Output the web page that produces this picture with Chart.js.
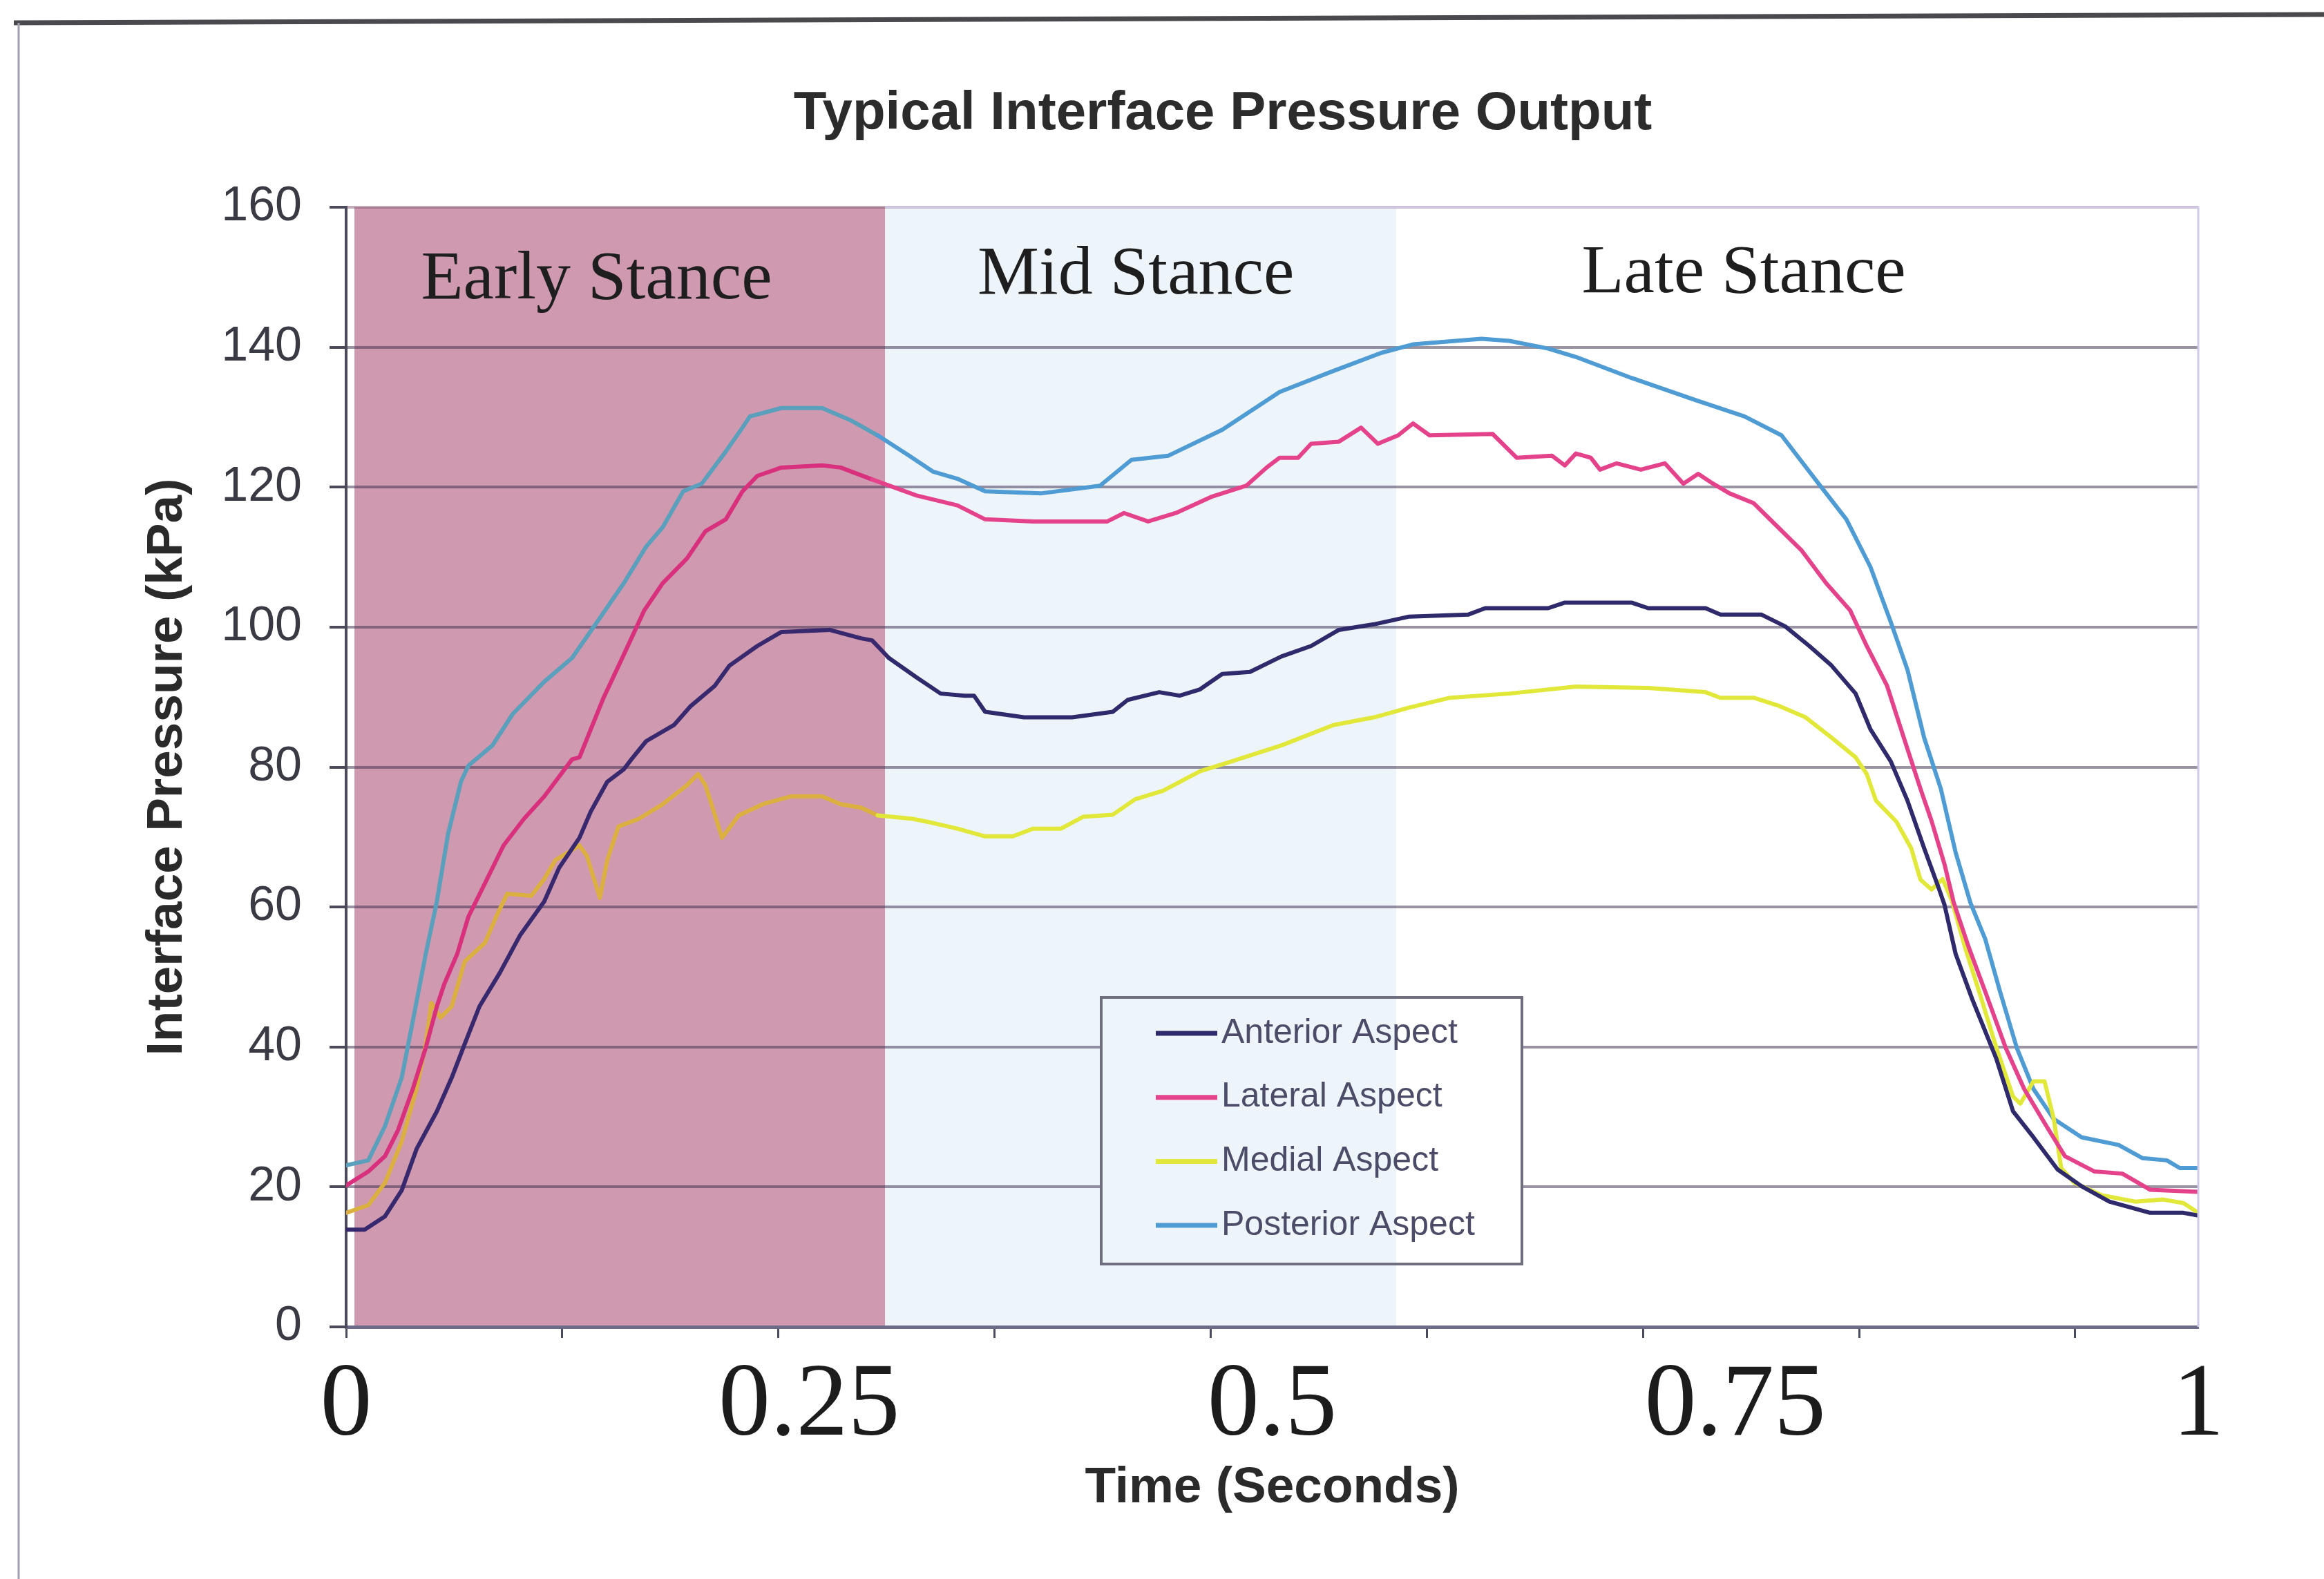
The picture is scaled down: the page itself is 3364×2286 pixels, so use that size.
<!DOCTYPE html>
<html>
<head>
<meta charset="utf-8">
<title>Typical Interface Pressure Output</title>
<script src="https://cdn.jsdelivr.net/npm/chart.js@4/dist/chart.umd.min.js"></script>
<style>
  html, body { margin: 0; padding: 0; background: #ffffff; }
  #wrap { width: 3364px; height: 2286px; }
</style>
</head>
<body>
<div id="wrap"><canvas id="chart" width="3364" height="2286"></canvas></div>
<script>
// ---- Series data: normalised time (0..1) and interface pressure (kPa) ----
const anteriorTime = [0.000,0.010,0.021,0.030,0.038,0.049,0.057,0.064,0.072,0.083,0.094,0.107,0.115,0.126,0.132,0.141,0.150,0.154,0.162,0.177,0.186,0.199,0.207,0.222,0.235,0.261,0.278,0.284,0.293,0.308,0.321,0.334,0.339,0.345,0.366,0.392,0.414,0.422,0.439,0.450,0.461,0.473,0.488,0.505,0.521,0.536,0.555,0.574,0.606,0.615,0.649,0.658,0.694,0.703,0.734,0.742,0.764,0.777,0.790,0.802,0.815,0.823,0.834,0.843,0.852,0.860,0.863,0.869,0.878,0.891,0.900,0.911,0.924,0.937,0.952,0.974,0.992,1.000];
const anteriorPressure = [13.9,13.9,15.8,19.5,25.4,30.8,35.6,40.4,45.8,50.6,56.0,60.8,65.6,69.9,73.6,77.9,79.7,81.1,83.7,86.0,88.7,91.6,94.5,97.3,99.3,99.6,98.4,98.1,95.6,92.8,90.5,90.2,90.2,87.9,87.1,87.1,87.9,89.6,90.7,90.2,91.1,93.3,93.6,95.8,97.3,99.6,100.4,101.5,101.8,102.7,102.7,103.5,103.5,102.7,102.7,101.8,101.8,100.1,97.3,94.5,90.5,85.4,80.8,75.2,68.4,62.6,60.3,53.3,46.8,38.3,30.8,27.1,22.5,20.1,17.9,16.3,16.3,15.9];

const lateralTime = [0.000,0.012,0.021,0.028,0.036,0.043,0.049,0.053,0.060,0.066,0.075,0.085,0.096,0.107,0.122,0.126,0.139,0.150,0.161,0.171,0.184,0.194,0.205,0.214,0.222,0.235,0.257,0.267,0.284,0.308,0.330,0.345,0.371,0.411,0.420,0.433,0.448,0.467,0.486,0.497,0.504,0.514,0.521,0.536,0.548,0.557,0.568,0.576,0.585,0.619,0.632,0.651,0.658,0.664,0.672,0.677,0.686,0.699,0.712,0.722,0.730,0.738,0.747,0.760,0.773,0.786,0.799,0.812,0.821,0.832,0.841,0.850,0.856,0.863,0.868,0.876,0.885,0.896,0.906,0.918,0.928,0.944,0.959,0.974,1.000];
const lateralPressure = [20.2,22.2,24.4,28.1,34.0,39.9,45.8,49.0,53.3,58.6,63.4,68.8,72.6,75.8,81.1,81.4,89.9,96.1,102.4,106.3,109.8,113.7,115.4,119.4,121.6,122.8,123.1,122.8,121.1,118.8,117.4,115.4,115.1,115.1,116.3,115.1,116.3,118.6,120.2,122.8,124.2,124.2,126.2,126.5,128.5,126.2,127.4,129.1,127.4,127.6,124.2,124.5,123.1,124.8,124.2,122.5,123.4,122.5,123.4,120.5,121.9,120.5,119.1,117.7,114.3,110.9,106.3,102.4,97.3,91.6,84.2,76.9,72.3,66.1,60.6,54.3,47.9,39.9,34.0,28.7,24.4,22.2,21.9,19.6,19.3];

const medialTime = [0.000,0.012,0.021,0.030,0.038,0.043,0.046,0.051,0.057,0.064,0.075,0.081,0.087,0.100,0.107,0.113,0.126,0.130,0.137,0.141,0.147,0.158,0.171,0.184,0.190,0.194,0.203,0.212,0.225,0.240,0.257,0.267,0.278,0.287,0.306,0.317,0.330,0.345,0.360,0.371,0.386,0.398,0.414,0.426,0.441,0.461,0.478,0.505,0.533,0.555,0.574,0.596,0.628,0.664,0.703,0.734,0.742,0.760,0.773,0.788,0.802,0.815,0.821,0.826,0.837,0.845,0.850,0.856,0.862,0.867,0.874,0.883,0.891,0.900,0.904,0.911,0.917,0.922,0.926,0.933,0.948,0.966,0.981,0.992,1.000];
const medialPressure = [16.3,17.4,20.6,26.5,34.0,40.4,46.3,44.2,45.8,52.2,54.9,58.6,61.9,61.6,64.0,66.7,68.8,67.3,61.3,66.7,71.5,72.6,74.7,77.4,79.0,77.4,69.9,73.1,74.7,75.8,75.8,74.7,74.2,73.1,72.6,72.0,71.2,70.1,70.1,71.2,71.2,72.9,73.2,75.4,76.6,79.4,80.8,83.1,86.0,87.1,88.5,89.9,90.5,91.5,91.3,90.7,89.9,89.9,88.8,87.1,84.2,81.4,79.0,75.2,72.2,68.4,63.9,62.5,64.0,60.9,54.3,46.8,39.9,32.9,31.9,35.1,35.1,29.7,22.7,20.6,18.8,17.9,18.2,17.7,16.3];

const posteriorTime = [0.000,0.012,0.021,0.030,0.036,0.043,0.049,0.055,0.062,0.066,0.079,0.090,0.107,0.122,0.137,0.150,0.162,0.171,0.182,0.192,0.205,0.214,0.218,0.235,0.257,0.272,0.287,0.304,0.317,0.330,0.345,0.375,0.407,0.424,0.444,0.473,0.504,0.531,0.559,0.576,0.613,0.628,0.649,0.664,0.694,0.729,0.755,0.775,0.795,0.810,0.823,0.834,0.843,0.852,0.861,0.869,0.877,0.885,0.893,0.902,0.911,0.922,0.937,0.957,0.970,0.983,0.990,1.000];
const posteriorPressure = [23.1,23.8,28.7,35.6,43.7,53.3,60.8,70.4,77.9,80.2,83.1,87.6,92.2,95.6,101.3,106.3,111.5,114.3,119.4,120.5,125.1,128.5,130.1,131.3,131.3,129.6,127.4,124.5,122.2,121.2,119.4,119.1,120.2,123.9,124.5,128.2,133.6,136.4,139.2,140.4,141.2,140.9,139.8,138.6,135.6,132.4,130.1,127.4,120.5,115.4,108.6,100.7,93.9,84.2,76.9,67.8,60.6,55.4,47.9,39.9,34.0,29.7,27.1,26.0,24.1,23.8,22.7,22.7];

const seriesNames = ['Anterior Aspect', 'Lateral Aspect', 'Medial Aspect', 'Posterior Aspect'];

// Gait phases (normalised time)
const stanceNames = ['Early Stance', 'Mid Stance', 'Late Stance'];
const stanceStart = [0.0045, 0.291, 0.567];
const stanceEnd   = [0.291, 0.567, 1.0];

// Axis ticks
const xTickLabels = ['0', '0.25', '0.5', '0.75', '1'];
const yTickMax = 160;
const yTickStep = 20;

// ---- Styling ----
const lineColors  = ['#2e2a6c', '#e4438b', '#e2e83a', '#4f9bd4'];
// the same traces as they appear over the early-stance shading
const shadedColors = ['#38286e', '#d8307c', '#dcb040', '#5aa0bc'];
const bandColors = ['rgb(207,153,175)', 'rgb(237,245,251)', 'rgb(255,255,255)'];
const gridColor = 'rgba(62,48,78,0.52)';
const X_TICK_STEP = 0.1167;

function toPoints(times, values) {
  return times.map((t, i) => ({ x: t, y: values[i] }));
}

const seriesData = [
  toPoints(anteriorTime, anteriorPressure),
  toPoints(lateralTime, lateralPressure),
  toPoints(medialTime, medialPressure),
  toPoints(posteriorTime, posteriorPressure)
];

function fillBands(ctx, x, top, height) {
  stanceStart.forEach((s, i) => {
    const x0 = x.getPixelForValue(s);
    const x1 = x.getPixelForValue(stanceEnd[i]);
    ctx.fillStyle = bandColors[i];
    ctx.fillRect(x0, top, x1 - x0, height);
  });
}

// Page frame, gait-phase shading, phase names and chart title
const stancePlugin = {
  id: 'stanceBands',
  beforeDraw(chart) {
    const { ctx, chartArea: a, scales: { x } } = chart;
    ctx.save();
    ctx.fillStyle = '#ffffff';
    ctx.fillRect(0, 0, chart.width, chart.height);
    ctx.strokeStyle = '#4a4a4e';
    ctx.lineWidth = 7;
    ctx.beginPath();
    ctx.moveTo(20, 33);
    ctx.lineTo(chart.width, 21);
    ctx.stroke();
    ctx.strokeStyle = '#a29fb0';
    ctx.lineWidth = 3;
    ctx.beginPath();
    ctx.moveTo(27, 33);
    ctx.lineTo(27, chart.height);
    ctx.stroke();
    ctx.beginPath();
    ctx.rect(a.left, a.top, a.right - a.left, a.bottom - a.top);
    ctx.clip();
    fillBands(ctx, x, a.top, a.bottom - a.top);
    ctx.restore();
  },
  afterDatasetsDraw(chart, args, opts) {
    const { ctx, chartArea: a, scales: { x, y } } = chart;
    // plot-area outline on the top and right
    ctx.save();
    ctx.strokeStyle = '#cfc8e6';
    ctx.lineWidth = 3;
    ctx.beginPath();
    ctx.moveTo(x.getPixelForValue(stanceEnd[0]), a.top);
    ctx.lineTo(a.right, a.top);
    ctx.lineTo(a.right, a.bottom);
    ctx.stroke();
    ctx.restore();

    ctx.save();
    ctx.font = '100px "Liberation Serif", "Times New Roman", serif';
    ctx.fillStyle = '#1e1e1e';
    ctx.textAlign = 'center';
    ctx.textBaseline = 'middle';
    stanceNames.forEach((name, i) => {
      ctx.fillText(name, x.getPixelForValue(opts.labelAt[i]), y.getPixelForValue(opts.labelLevel[i]));
    });
    ctx.restore();
  },
  afterDraw(chart, args, opts) {
    const { ctx } = chart;
    ctx.save();
    ctx.font = 'bold 78px "Liberation Sans", Arial, sans-serif';
    ctx.fillStyle = '#2c2c2c';
    ctx.textAlign = 'center';
    ctx.textBaseline = 'middle';
    ctx.fillText(opts.title, opts.titleX, opts.titleY);
    ctx.restore();
  }
};

// Boxed legend sitting inside the plot area
const boxLegendPlugin = {
  id: 'boxLegend',
  afterDraw(chart, args, opts) {
    const { ctx, chartArea: a, scales: { x } } = chart;
    const lx = a.left + opts.dx, ly = a.top + opts.dy, w = opts.width, h = opts.height;
    ctx.save();
    ctx.beginPath();
    ctx.rect(lx, ly, w, h);
    ctx.clip();
    ctx.fillStyle = '#ffffff';
    ctx.fillRect(lx, ly, w, h);
    fillBands(ctx, x, ly, h);
    ctx.restore();

    ctx.save();
    ctx.strokeStyle = '#6e6e7e';
    ctx.lineWidth = 4;
    ctx.strokeRect(lx, ly, w, h);
    ctx.font = '50px "Liberation Sans", Arial, sans-serif';
    ctx.textBaseline = 'middle';
    ctx.textAlign = 'left';
    chart.data.datasets.forEach((ds, i) => {
      const cy = ly + opts.firstRow + i * opts.rowGap;
      ctx.strokeStyle = ds.borderColor;
      ctx.lineWidth = 7;
      ctx.beginPath();
      ctx.moveTo(lx + 79, cy);
      ctx.lineTo(lx + 168, cy);
      ctx.stroke();
      ctx.fillStyle = '#4c4c68';
      ctx.fillText(ds.label, lx + 174, cy);
    });
    ctx.restore();
  }
};

new Chart(document.getElementById('chart'), {
  type: 'line',
  data: {
    datasets: seriesNames.map((name, i) => ({
      label: name,
      data: seriesData[i],
      borderColor: lineColors[i],
      backgroundColor: lineColors[i],
      borderWidth: 6,
      pointRadius: 0,
      tension: 0,
      fill: false,
      borderJoinStyle: 'round',
      borderCapStyle: 'round',
      segment: {
        // tint the part of each trace lying over the early-stance band
        borderColor: (c) => ((c.p0.parsed.x + c.p1.parsed.x) / 2 < stanceEnd[0] ? shadedColors[i] : undefined)
      }
    }))
  },
  options: {
    responsive: false,
    animation: false,
    devicePixelRatio: 1,
    layout: { padding: { left: 0, right: 182, top: 300, bottom: 0 } },
    plugins: {
      legend: { display: false },
      tooltip: { enabled: false },
      title: { display: false },
      stanceBands: {
        labelAt: [0.1352, 0.4264, 0.7546],
        labelLevel: [149.6, 150.3, 150.5],
        title: 'Typical Interface Pressure Output',
        titleX: 1770,
        titleY: 165
      },
      boxLegend: { dx: 1093, dy: 1144, width: 609, height: 386, firstRow: 52, rowGap: 92.7 }
    },
    scales: {
      x: {
        type: 'linear',
        min: 0,
        max: 1,
        position: 'bottom',
        weight: 0,
        grid: { drawOnChartArea: false, drawTicks: true, tickLength: 16, tickColor: '#4a4a5e', tickWidth: 3 },
        border: { color: '#6c6c88', width: 5 },
        ticks: { display: false },
        afterBuildTicks(scale) {
          const ticks = [];
          for (let k = 0; k * X_TICK_STEP <= 1.0001; k++) ticks.push({ value: k * X_TICK_STEP });
          scale.ticks = ticks;
        },
        afterFit(scale) { scale.height = 16; }
      },
      xLabels: {
        type: 'linear',
        min: 0,
        max: 1,
        position: 'bottom',
        weight: 1,
        grid: { display: false },
        border: { display: false },
        ticks: {
          stepSize: 0.25,
          autoSkip: false,
          maxRotation: 0,
          padding: 3,
          color: '#1c1c1c',
          font: { family: '"Liberation Serif", "Times New Roman", serif', size: 150 },
          callback: (v) => xTickLabels[Math.round(v / 0.25)]
        },
        title: {
          display: true,
          text: 'Time (Seconds)',
          color: '#2a2a2a',
          font: { family: '"Liberation Sans", Arial, sans-serif', size: 73, weight: 'bold' },
          padding: { top: 0, bottom: 87 }
        },
        afterFit(scale) { scale.height = 349; }
      },
      y: {
        type: 'linear',
        min: 0,
        max: yTickMax,
        ticks: {
          stepSize: yTickStep,
          padding: 40,
          color: '#3a3a44',
          font: { family: '"Liberation Sans", Arial, sans-serif', size: 70 }
        },
        grid: {
          lineWidth: 4,
          tickLength: 24,
          tickWidth: 4,
          tickColor: '#4a4a5a',
          color: (c) => {
            const v = c.tick ? c.tick.value : null;
            if (v === yTickMax) return 'rgba(120,70,100,0.45)';
            if (v === 0) return 'rgba(0,0,0,0)';
            return gridColor;
          }
        },
        border: { color: '#4a4a5a', width: 4 },
        title: {
          display: true,
          text: 'Interface Pressure (kPa)',
          color: '#2a2a2a',
          font: { family: '"Liberation Sans", Arial, sans-serif', size: 73, weight: 'bold' },
          padding: { top: 199, bottom: 0 }
        },
        afterFit(scale) { scale.width = 501; }
      }
    }
  },
  plugins: [stancePlugin, boxLegendPlugin]
});
</script>
</body>
</html>
